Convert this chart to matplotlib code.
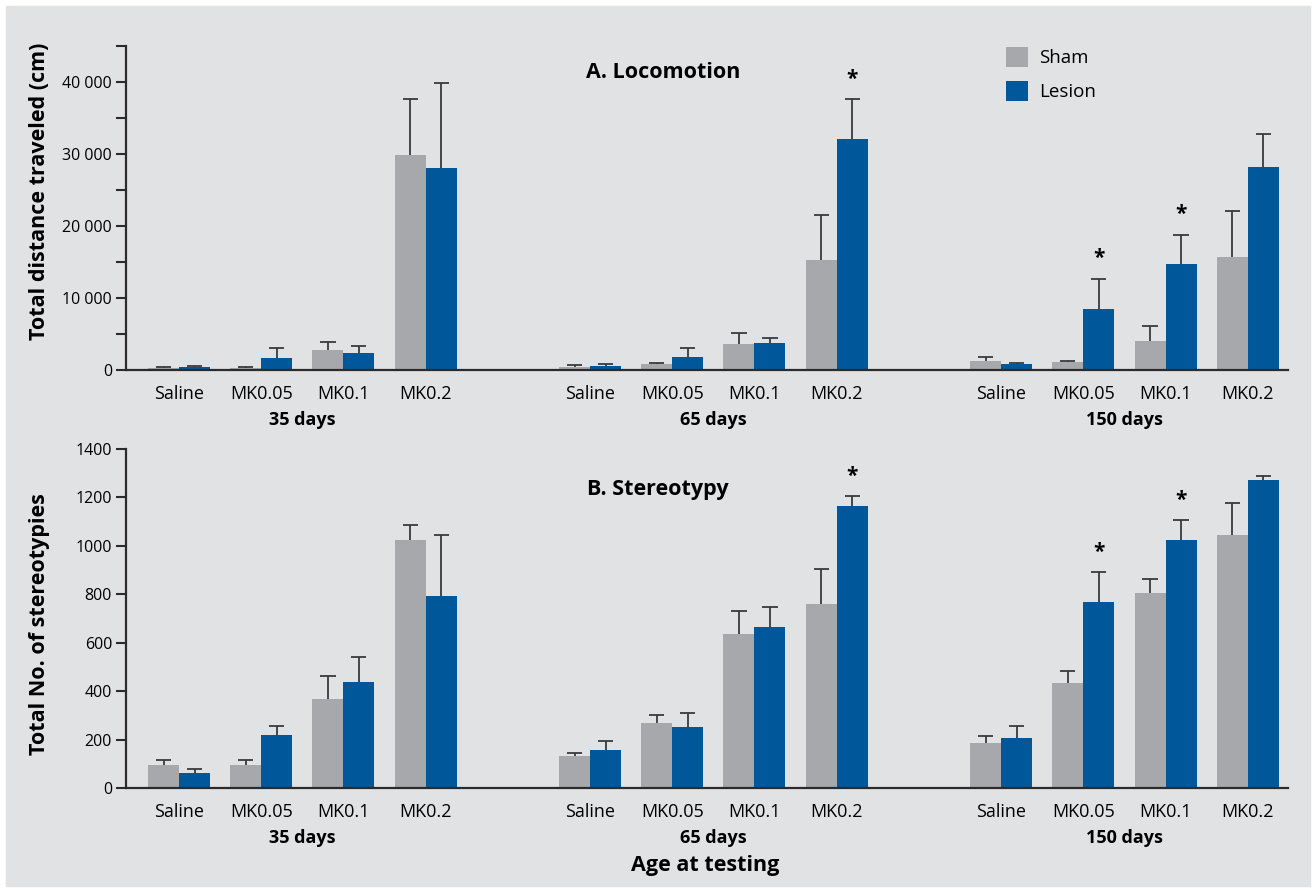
import numpy as np
import matplotlib.pyplot as plt
from matplotlib.patches import Rectangle
from matplotlib.ticker import FuncFormatter, MultipleLocator

plt.rcParams['font.family'] = ['Open Sans', 'DejaVu Sans']

doses = ['Saline', 'MK0.05', 'MK0.1', 'MK0.2']
ages = ['35 days', '65 days', '150 days']

# A. Locomotion (cm), order: 35 d, 65 d, 150 d x 4 doses
loco_sham = [300, 250, 2800, 29900,
             420, 880, 3650, 15300,
             1250, 1100, 4000, 15650]
loco_sham_err = [150, 150, 1100, 7700,
                 230, 100, 1550, 6200,
                 500, 180, 2100, 6400]
loco_lesion = [400, 1650, 2350, 28100,
               550, 1800, 3750, 32100,
               830, 8450, 14700, 28250]
loco_lesion_err = [100, 1450, 950, 11800,
                   240, 1200, 700, 5500,
                   140, 4250, 4050, 4550]

# B. Stereotypy (counts)
ster_sham = [95, 95, 368, 1025,
             132, 268, 636, 760,
             186, 434, 806, 1045]
ster_sham_err = [22, 19, 95, 63,
                 14, 32, 94, 144,
                 29, 49, 59, 134]
ster_lesion = [62, 219, 438, 793,
               157, 252, 665, 1165,
               207, 769, 1025, 1273]
ster_lesion_err = [15, 37, 105, 252,
                   36, 57, 84, 40,
                   49, 121, 80, 14]

# significance stars (index into the 12 bars, lesion)
loco_stars = [7, 9, 10]
ster_stars = [7, 9, 10]

sham_color = '#a7a8ab'
lesion_color = '#00589a'
bg = '#e1e2e4'
dark = '#2b2b2b'
err_color = '#3a3a3a'

W, H = 1316, 892
fig = plt.figure(figsize=(W / 100, H / 100), dpi=100)
fig.patches.append(Rectangle((6 / W, 6 / H), 1304 / W, 880 / H,
                             transform=fig.transFigure, color=bg, zorder=-10))

ax1 = fig.add_axes([126 / W, 1 - 370 / H, (1288 - 126) / W, (370 - 46) / H])
ax2 = fig.add_axes([126 / W, 1 - 788 / H, (1288 - 126) / W, (788 - 449) / H])

pos = np.array([0, 1, 2, 3, 5, 6, 7, 8, 10, 11, 12, 13], dtype=float)
w = 0.377
cap = 0.092


def upper_err(ax, x, y, e):
    y = np.asarray(y, dtype=float)
    top = y + np.asarray(e, dtype=float)
    ax.vlines(x, y, top, color=err_color, lw=1.3, zorder=1)
    ax.hlines(top, x - cap, x + cap, color=err_color, lw=1.3, zorder=1)


def draw(ax, sham, sham_err, lesion, lesion_err, stars, ymax, major, minor):
    ax.set_facecolor('none')
    ax.bar(pos - w / 2, sham, w, color=sham_color, label='Sham', zorder=2)
    ax.bar(pos + w / 2, lesion, w, color=lesion_color, label='Lesion', zorder=2)
    upper_err(ax, pos - w / 2, sham, sham_err)
    upper_err(ax, pos + w / 2, lesion, lesion_err)
    for i in stars:
        ax.annotate('*', (pos[i] + w / 2, lesion[i] + lesion_err[i]),
                    xytext=(0, 7), textcoords='offset points',
                    ha='center', va='bottom', fontsize=15, fontweight='bold')
    ax.set_xlim(-0.645, 13.49)
    ax.set_ylim(0, ymax)
    ax.yaxis.set_major_locator(MultipleLocator(major))
    if minor:
        ax.yaxis.set_minor_locator(MultipleLocator(minor))
    ax.tick_params(axis='y', which='both', direction='out', length=7, width=1.5,
                   color=dark, labelsize=11.5, pad=3)
    ax.set_xticks(pos)
    ax.set_xticklabels(doses * 3, fontsize=13)
    ax.tick_params(axis='x', length=0, pad=11)
    for s in ['top', 'right']:
        ax.spines[s].set_visible(False)
    for s in ['left', 'bottom']:
        ax.spines[s].set_color(dark)
        ax.spines[s].set_linewidth(1.6)
    for k, age in enumerate(ages):
        ax.annotate(age, (pos[4 * k:4 * k + 4].mean(), 0), xycoords=ax.get_xaxis_transform(),
                    xytext=(0, -36), textcoords='offset points',
                    ha='center', va='center', fontsize=13, fontweight='bold')


draw(ax1, loco_sham, loco_sham_err, loco_lesion, loco_lesion_err, loco_stars,
     45000, 10000, 5000)
ax1.yaxis.set_major_formatter(FuncFormatter(lambda v, p: f'{int(v):,}'.replace(',', ' ')))
ax1.set_ylabel('Total distance traveled (cm)', fontsize=15.5, fontweight='bold')
ax1.yaxis.set_label_coords(-0.0655, 0.55)
ax1.text(5.89, 41300, 'A. Locomotion', ha='center', va='center', fontsize=15.5, fontweight='bold')
ax1.legend(loc='upper left', bbox_to_anchor=(989 / W, 1 - 30 / H),
           bbox_transform=fig.transFigure, frameon=False, fontsize=13.5,
           handlelength=1.17, handleheight=1.25, labelspacing=0.75, handletextpad=0.6)

draw(ax2, ster_sham, ster_sham_err, ster_lesion, ster_lesion_err, ster_stars,
     1400, 200, None)
ax2.set_ylabel('Total No. of stereotypies', fontsize=15.5, fontweight='bold')
ax2.yaxis.set_label_coords(-0.0655, 0.485)
ax2.text(5.83, 1231, 'B. Stereotypy', ha='center', va='center', fontsize=15.5, fontweight='bold')
fig.text(705 / W, 1 - 866 / H, 'Age at testing', ha='center', va='center',
         fontsize=15.5, fontweight='bold')

fig.savefig('out.png', dpi=100)
